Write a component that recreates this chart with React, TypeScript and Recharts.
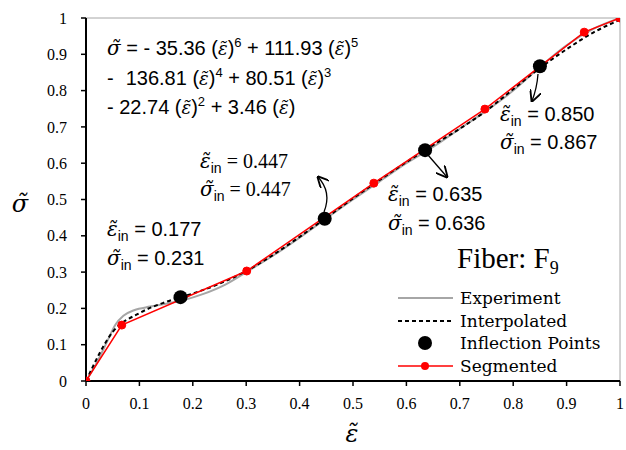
import React from "react";
import {
  ComposedChart,
  Line,
  XAxis,
  YAxis,
  ReferenceLine,
} from "recharts";

// values
const ticks = [0, 0.1, 0.2, 0.3, 0.4, 0.5, 0.6, 0.7, 0.8, 0.9, 1];

const expX = [0, 0.02, 0.04, 0.055, 0.07, 0.09, 0.12, 0.15, 0.18, 0.22, 0.26, 0.3, 0.35, 0.4, 0.45, 0.5, 0.55, 0.6, 0.65, 0.7, 0.75, 0.8, 0.85, 0.9, 0.95, 1];
const expY = [0, 0.05, 0.11, 0.155, 0.18, 0.195, 0.205, 0.213, 0.222, 0.24, 0.265, 0.3, 0.345, 0.395, 0.448, 0.5, 0.55, 0.6, 0.645, 0.695, 0.745, 0.8, 0.865, 0.925, 0.97, 1];

const intX = [0, 0.05, 0.1, 0.15, 0.2, 0.25, 0.3, 0.35, 0.4, 0.45, 0.5, 0.55, 0.6, 0.65, 0.7, 0.75, 0.8, 0.85, 0.9, 0.95, 1];
const intY = [0, 0.135, 0.187, 0.218, 0.241, 0.268, 0.303, 0.347, 0.397, 0.45, 0.503, 0.554, 0.603, 0.65, 0.695, 0.745, 0.804, 0.862, 0.914, 0.96, 0.995];

const segX = [0, 0.067, 0.301, 0.539, 0.747, 0.933, 1];
const segY = [0, 0.154, 0.303, 0.545, 0.749, 0.961, 1];

const inflX = [0.177, 0.447, 0.635, 0.85];
const inflY = [0.231, 0.447, 0.636, 0.867];

const zip = (xs: number[], ys: number[]) => xs.map((x, i) => ({ x, y: ys[i] }));

const experiment = zip(expX, expY);
const interpolated = zip(intX, intY);
const segmented = zip(segX, segY);
const inflection = zip(inflX, inflY);

const SERIF = "'Liberation Serif', 'DejaVu Serif', serif";
const DSERIF = "'DejaVu Serif', serif";
const SANS = "'Liberation Sans', Arial, sans-serif";
const SIG = "σ\u0303";
const EPS = "ε\u0303";

function InLabel({ x, y, sym, val, font }: { x: number; y: number; sym: string; val: string; font: string }) {
  return (
    <text x={x} y={y} fontSize={20} fill="#000" fontFamily={font}>
      <tspan fontFamily={DSERIF} fontStyle="italic" fontSize={20}>{sym}</tspan>
      <tspan fontFamily={SANS} fontSize={14} dy={5}>in</tspan>
      <tspan dy={-5}> = {val}</tspan>
    </text>
  );
}

function Eps() {
  return (
    <>
      (<tspan fontFamily={DSERIF} fontStyle="italic" fontSize={18}>{EPS}</tspan>)
    </>
  );
}

export default function App() {
  return (
    <div style={{ position: "fixed", left: 0, top: 0, width: 626, height: 450, background: "#fff" }}>
      <ComposedChart width={626} height={450} margin={{ top: 18, right: 6, left: 0, bottom: 0 }}>
        <XAxis
          type="number"
          dataKey="x"
          domain={[0, 1]}
          ticks={ticks}
          height={69}
          tickSize={5}
          tickMargin={12}
          axisLine={{ stroke: "#000", strokeWidth: 2 }}
          tickLine={{ stroke: "#000", strokeWidth: 1.5 }}
          tick={{ fontFamily: SERIF, fontSize: 16, fill: "#000" }}
          allowDataOverflow
        />
        <YAxis
          type="number"
          dataKey="y"
          domain={[0, 1]}
          ticks={ticks}
          width={86}
          tickSize={5}
          tickMargin={14}
          axisLine={{ stroke: "#000", strokeWidth: 2 }}
          tickLine={{ stroke: "#000", strokeWidth: 1.5 }}
          tick={{ fontFamily: SERIF, fontSize: 16, fill: "#000" }}
          allowDataOverflow
        />
        <ReferenceLine y={1} stroke="#a6a6a6" strokeWidth={1} />
        <ReferenceLine x={1} stroke="#a6a6a6" strokeWidth={1} />
        <Line
          data={experiment}
          dataKey="y"
          type="monotone"
          stroke="#a6a6a6"
          strokeWidth={2}
          dot={false}
          isAnimationActive={false}
        />
        <Line
          data={interpolated}
          dataKey="y"
          type="monotone"
          stroke="#000"
          strokeWidth={2}
          strokeDasharray="4 3"
          dot={false}
          isAnimationActive={false}
        />
        <Line
          data={segmented}
          dataKey="y"
          type="linear"
          stroke="#ff0000"
          strokeWidth={1.5}
          dot={{ r: 4, fill: "#ff0000", stroke: "#ff0000", strokeWidth: 1 }}
          isAnimationActive={false}
        />
        <Line
          data={inflection}
          dataKey="y"
          type="linear"
          stroke="none"
          dot={{ r: 7, fill: "#000", stroke: "none" }}
          isAnimationActive={false}
        />
      </ComposedChart>

      <svg
        width={626}
        height={450}
        style={{ position: "absolute", left: 0, top: 0, pointerEvents: "none" }}
      >
        <defs>
          <marker id="arr" viewBox="0 0 10 10" refX="9" refY="5" markerWidth="9" markerHeight="9" orient="auto-start-reverse">
            <path d="M0,0 L10,5 L0,10" fill="none" stroke="#000" strokeWidth={1.6} />
          </marker>
        </defs>

        {/* axis titles */}
        <text x={20} y={212} fontSize={24} fontFamily={DSERIF} fontStyle="italic" textAnchor="middle">{SIG}</text>
        <text x={352} y={442} fontSize={24} fontFamily={DSERIF} fontStyle="italic" textAnchor="middle">{EPS}</text>

        {/* fitted polynomial */}
        <g fontFamily={SANS} fontSize={20} fill="#000">
          <text x={107} y={55}>
            <tspan fontFamily={DSERIF} fontStyle="italic" fontSize={20}>{SIG}</tspan> = - 35.36 <Eps />
            <tspan dy={-8} fontSize={13}>6</tspan>
            <tspan dy={8}> + 111.93 </tspan>
            <Eps />
            <tspan dy={-8} fontSize={13}>5</tspan>
          </text>
          <text x={107} y={85}>
            -<tspan dx={12}>136.81 </tspan>
            <Eps />
            <tspan dy={-8} fontSize={13}>4</tspan>
            <tspan dy={8}> + 80.51 </tspan>
            <Eps />
            <tspan dy={-8} fontSize={13}>3</tspan>
          </text>
          <text x={107} y={114}>
            - 22.74 <Eps />
            <tspan dy={-8} fontSize={13}>2</tspan>
            <tspan dy={8}> + 3.46 </tspan>
            <Eps />
          </text>
        </g>

        {/* inflection point notes */}
        <InLabel x={107} y={236} sym={EPS} val="0.177" font={SANS} />
        <InLabel x={107} y={265} sym={SIG} val="0.231" font={SANS} />

        <InLabel x={200} y={168} sym={EPS} val="0.447" font={SERIF} />
        <InLabel x={200} y={196} sym={SIG} val="0.447" font={SERIF} />
        <path d="M324,212 Q332,192 318,177" fill="none" stroke="#000" strokeWidth={1.3} markerEnd="url(#arr)" />

        <InLabel x={388} y={201} sym={EPS} val="0.635" font={SANS} />
        <InLabel x={388} y={230} sym={SIG} val="0.636" font={SANS} />
        <path d="M428,155 L447,177" fill="none" stroke="#000" strokeWidth={1.3} markerEnd="url(#arr)" />

        <InLabel x={500} y={121} sym={EPS} val="0.850" font={SANS} />
        <InLabel x={500} y={149} sym={SIG} val="0.867" font={SANS} />
        <path d="M538,74 Q537,88 532,101" fill="none" stroke="#000" strokeWidth={1.3} markerEnd="url(#arr)" />

        {/* fiber name */}
        <text x={457} y={268} fontSize={29} fontFamily={SERIF} fill="#000">
          Fiber: F<tspan fontSize={18} dy={6}>9</tspan>
        </text>

        {/* legend */}
        <g fontFamily={DSERIF} fontSize={17} fill="#000">
          <line x1={398} x2={453} y1={298} y2={298} stroke="#a6a6a6" strokeWidth={2} />
          <text x={460} y={304}>Experiment</text>
          <line x1={398} x2={453} y1={321} y2={321} stroke="#000" strokeWidth={2} strokeDasharray="4 3" />
          <text x={460} y={327}>Interpolated</text>
          <circle cx={425} cy={343} r={7} fill="#000" />
          <text x={460} y={349}>Inflection Points</text>
          <line x1={398} x2={453} y1={366} y2={366} stroke="#ff0000" strokeWidth={1.5} />
          <circle cx={425} cy={366} r={4} fill="#ff0000" />
          <text x={460} y={372}>Segmented</text>
        </g>
      </svg>
    </div>
  );
}
